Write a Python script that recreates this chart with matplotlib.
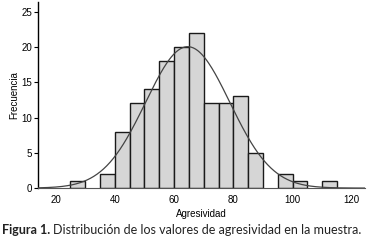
import matplotlib
matplotlib.use("Agg")
import matplotlib.pyplot as plt
import numpy as np

# datos del histograma (intervalos de 5 puntos)
bin_left = [25, 35, 40, 45, 50, 55, 60, 65, 70, 75, 80, 85, 95, 100, 110]
counts = [1, 2, 8, 12, 14, 18, 20, 22, 12, 12, 13, 5, 2, 1, 1]
bin_width = 5
x_ticks = [20, 40, 60, 80, 100, 120]
y_ticks = [0, 5, 10, 15, 20, 25]

plt.rcParams['font.family'] = ['Liberation Sans', 'DejaVu Sans']

fig = plt.figure(figsize=(3.68, 2.43), dpi=100)
ax = fig.add_axes([0.103, 0.226, 0.889, 0.766])

ax.bar(bin_left, counts, width=bin_width, align='edge',
       color='#d6d6d6', edgecolor='#1a1a1a', linewidth=1.0, zorder=2)

# curva normal ajustada
mids = np.array(bin_left) + bin_width / 2
c = np.array(counts)
n = c.sum()
mu = (mids * c).sum() / n
sd = np.sqrt(((mids - mu) ** 2 * c).sum() / n)
xs = np.linspace(14, 124.5, 300)
ys = n * bin_width / (sd * np.sqrt(2 * np.pi)) * np.exp(-0.5 * ((xs - mu) / sd) ** 2)
ax.plot(xs, ys, color='#444444', linewidth=0.9, zorder=3)

ax.set_xlim(14, 124.5)
ax.set_ylim(0, 26.4)
ax.set_xticks(x_ticks)
ax.set_yticks(y_ticks)
ax.tick_params(axis='x', length=0, labelsize=7, pad=5)
ax.tick_params(axis='y', length=3, width=0.8, labelsize=7, pad=1)
ax.spines['top'].set_visible(False)
ax.spines['right'].set_visible(False)
ax.spines['left'].set_linewidth(1.0)
ax.spines['bottom'].set_color('#555555')
ax.spines['bottom'].set_linewidth(0.8)

ax.set_xlabel('Agresividad', fontsize=7, labelpad=3)
ax.set_ylabel('Frecuencia', fontsize=7, labelpad=2)

# pie de figura
t1 = fig.text(0.006, 0.035, 'Figura 1.', fontsize=9, fontweight='bold',
              family=['Lato', 'DejaVu Sans'], color='#222222')
fig.canvas.draw()
bb = t1.get_window_extent()
x2 = (bb.x1 + 3) / fig.bbox.width
fig.text(x2, 0.035, 'Distribución de los valores de agresividad en la muestra.',
         fontsize=9, family=['Lato', 'DejaVu Sans'], color='#222222')

fig.savefig('out.png', dpi=100)
